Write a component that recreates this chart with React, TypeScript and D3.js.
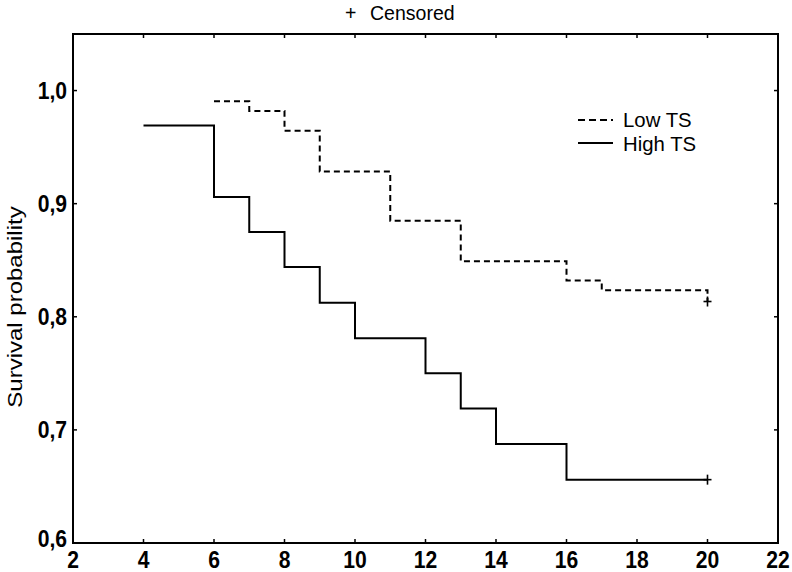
import React from "react";
import * as d3 from "d3";

const xTicks = [2, 4, 6, 8, 10, 12, 14, 16, 18, 20, 22];
const yTicks = [0.6, 0.7, 0.8, 0.9, 1.0];
const yTickLabels = ["0,6", "0,7", "0,8", "0,9", "1,0"];

// High TS step curve (time, survival)
const highTime = [4, 6, 7, 8, 9, 10, 12, 13, 14, 16, 20];
const highSurv = [0.969, 0.906, 0.875, 0.844, 0.8125, 0.781, 0.75, 0.719, 0.6875, 0.656, 0.656];
// Low TS step curve
const lowTime = [6, 7, 8, 9, 11, 13, 16, 17, 20];
const lowSurv = [0.9905, 0.982, 0.9645, 0.9285, 0.885, 0.849, 0.832, 0.8235, 0.8135];

// Censored marks
const censorHigh = { t: 20, s: 0.656 };
const censorLow = { t: 20, s: 0.8135 };

const W = 792;
const H = 572;
const M = { left: 73, right: 778, top: 34, bottom: 543 };
const FONT = "'Liberation Sans', Arial, sans-serif";

function SText(props: {
  x: number;
  y: number;
  sx?: number;
  size: number;
  anchor?: string;
  weight?: string;
  children: React.ReactNode;
}) {
  const { x, y, sx = 0.9, size, anchor = "start", weight = "normal", children } = props;
  return (
    <text
      transform={`translate(${x},${y}) scale(${sx},1)`}
      textAnchor={anchor}
      fontFamily={FONT}
      fontWeight={weight}
      fontSize={size}
      fill="#000"
    >
      {children}
    </text>
  );
}

export default function App() {
  const x = d3.scaleLinear().domain([2, 22]).range([M.left, M.right]);
  const y = d3.scaleLinear().domain([0.6, 1.05]).range([M.bottom, M.top]);

  const line = d3
    .line<[number, number]>()
    .x((d) => x(d[0]))
    .y((d) => y(d[1]))
    .curve(d3.curveStepAfter);

  const highPts: [number, number][] = highTime.map((t, i) => [t, highSurv[i]]);
  const lowPts: [number, number][] = lowTime.map((t, i) => [t, lowSurv[i]]);

  const plus = (cx: number, cy: number, key: string) => (
    <g key={key} stroke="#000" strokeWidth={1.6}>
      <line x1={cx - 4} x2={cx + 4} y1={cy} y2={cy} />
      <line x1={cx} x2={cx} y1={cy - 5} y2={cy + 5} />
    </g>
  );

  return (
    <svg
      width={W}
      height={H}
      style={{ position: "absolute", left: 0, top: 0, background: "#fff" }}
    >
      <rect x={0} y={0} width={W} height={H} fill="#fff" />
      {/* frame */}
      <rect
        x={M.left}
        y={M.top}
        width={M.right - M.left}
        height={M.bottom - M.top}
        fill="none"
        stroke="#000"
        strokeWidth={2}
      />
      {/* x ticks (inward, top and bottom) */}
      {xTicks.map((t) => (
        <g key={"xt" + t}>
          <line x1={x(t)} x2={x(t)} y1={M.bottom} y2={M.bottom - 4} stroke="#000" strokeWidth={1.5} />
          <line x1={x(t)} x2={x(t)} y1={M.top} y2={M.top + 4} stroke="#000" strokeWidth={1.5} />
          <SText x={x(t)} y={568} size={24} sx={0.88} anchor="middle" weight="bold">
            {t}
          </SText>
        </g>
      ))}
      {/* y ticks */}
      {yTicks.map((v, i) => (
        <g key={"yt" + v}>
          <line x1={M.left} x2={M.left + 4} y1={y(v)} y2={y(v)} stroke="#000" strokeWidth={1.5} />
          <line x1={M.right} x2={M.right - 4} y1={y(v)} y2={y(v)} stroke="#000" strokeWidth={1.5} />
          <SText x={67} y={(i === 0 ? y(v) - 5 : y(v)) + 8.5} size={24} sx={0.88} anchor="end" weight="bold">
            {yTickLabels[i]}
          </SText>
        </g>
      ))}
      {/* y axis title */}
      <text
        transform={`translate(22,307) rotate(-90) scale(1,0.88)`}
        textAnchor="middle"
        fontFamily={FONT}
        fontSize={24}
        fill="#000"
      >
        Survival probability
      </text>
      {/* title */}
      <SText x={345} y={20} size={21} sx={0.93}>
        +
      </SText>
      <SText x={370} y={20} size={21} sx={0.93}>
        Censored
      </SText>
      {/* curves */}
      <path d={line(highPts) || ""} fill="none" stroke="#000" strokeWidth={2} />
      <path
        d={line(lowPts) || ""}
        fill="none"
        stroke="#000"
        strokeWidth={2}
        strokeDasharray="6,4"
      />
      {plus(x(censorHigh.t), y(censorHigh.s), "ch")}
      {plus(x(censorLow.t), y(censorLow.s), "cl")}
      {/* legend */}
      <line x1={578} x2={613} y1={120} y2={120} stroke="#000" strokeWidth={2} strokeDasharray="7,4" />
      <SText x={623} y={127} size={21} sx={0.97}>
        Low TS
      </SText>
      <line x1={578} x2={613} y1={143} y2={143} stroke="#000" strokeWidth={2} />
      <SText x={623} y={151} size={21} sx={0.97}>
        High TS
      </SText>
    </svg>
  );
}
